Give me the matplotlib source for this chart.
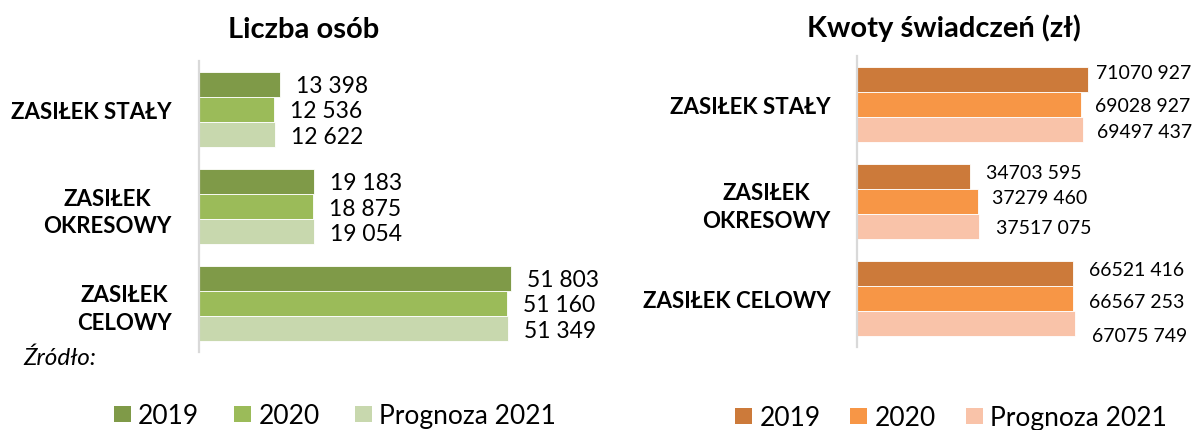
import matplotlib
matplotlib.use("Agg")
import matplotlib.pyplot as plt
from matplotlib.patches import Patch

plt.rcParams['font.family'] = ['Lato', 'DejaVu Sans']

# ---------------- data ----------------
categories_left = ["ZASIŁEK STAŁY", "ZASIŁEK\nOKRESOWY", "ZASIŁEK\nCELOWY"]
categories_right = ["ZASIŁEK STAŁY", "ZASIŁEK\nOKRESOWY", "ZASIŁEK CELOWY"]
series_names = ["2019", "2020", "Prognoza 2021"]

osoby_2019 = [13398, 19183, 51803]
osoby_2020 = [12536, 18875, 51160]
osoby_2021 = [12622, 19054, 51349]

kwoty_2019 = [71070927, 34703595, 66521416]
kwoty_2020 = [69028927, 37279460, 66567253]
kwoty_2021 = [69497437, 37517075, 67075749]

title_left = "Liczba osób"
title_right = "Kwoty świadczeń (zł)"
source_text = "Źródło:"

# ---------------- style ----------------
greens = ["#7F9A48", "#9BBB59", "#C8D8AE"]
oranges = ["#CC7A3A", "#F79646", "#F9C3A9"]
axis_grey = "#D9D9D9"
DPI = 100
W, H = 1195, 431
PX = 72.0 / DPI  # points per pixel

# label nudges in pixels (dx from bar end, dy downwards) for the right chart
nudge_right = [
    [(8, -6.5), (14, 1.5), (14, 1.5)],
    [(16, -3.5), (14, -3.7), (17, 1.3)],
    [(16, -4), (16, 3.3), (17, 11.7)],
]

fmt_left = lambda v: f"{v:,}".replace(",", " ")
fmt_right = lambda v: f"{v // 1000} {v % 1000:03d}"

fig = plt.figure(figsize=(W / DPI, H / DPI), dpi=DPI)


def frac(x0, x1, ytop, ybot):
    return [x0 / W, 1 - ybot / H, (x1 - x0) / W, (ybot - ytop) / H]


def draw_panel(ax, cats, series, colors, xmax, fmt, nudges, label_pad, val_size):
    n = len(cats)
    bh = 0.258
    for s, (vals, col) in enumerate(zip(series, colors)):
        pos = [i + (s - 1) * bh for i in range(n)]
        ax.barh(pos, vals, height=bh, color=col, edgecolor="white", linewidth=0.6)
        for i, v in enumerate(vals):
            dx, dy = nudges[i][s] if nudges else (16, 1.5)
            ax.annotate(fmt(v), xy=(v, pos[i]), xytext=(dx * PX, -dy * PX),
                        textcoords="offset points", ha="left", va="center",
                        fontsize=val_size, color="black", annotation_clip=False)
    ax.set_ylim(n - 0.5, -0.5)
    ax.set_xlim(0, xmax)
    ax.set_yticks(range(n))
    ax.set_yticklabels(cats, fontsize=16, fontweight="bold", linespacing=1.4)
    for t in ax.get_yticklabels():
        t.set_multialignment("center")
    ax.tick_params(axis="y", length=0, pad=label_pad)
    ax.set_xticks([])
    for side in ["top", "right", "bottom"]:
        ax.spines[side].set_visible(False)
    ax.spines["left"].set_color(axis_grey)
    ax.spines["left"].set_linewidth(1.6)


axL = fig.add_axes(frac(199, 560, 62, 353))
draw_panel(axL, categories_left, [osoby_2019, osoby_2020, osoby_2021], greens,
           60000, fmt_left, None, 27 * PX, 16.5)

axR = fig.add_axes(frac(857, 1117, 57, 348))
draw_panel(axR, categories_right, [kwoty_2019, kwoty_2020, kwoty_2021], oranges,
           80000000, fmt_right, nudge_right, 26 * PX, 14)

fig.text(304 / W, 1 - 30 / H, title_left, ha="center", va="center",
         fontsize=21, fontweight="bold")
fig.text(944 / W, 1 - 28 / H, title_right, ha="center", va="center",
         fontsize=21, fontweight="bold")
fig.text(23 / W, 1 - 358 / H, source_text, ha="left", va="center",
         fontsize=17.5, style="italic")


def add_legend(colors, cx, cy, colspace):
    handles = [Patch(facecolor=c, edgecolor="none") for c in colors]
    fig.legend(handles, series_names, loc="center", bbox_to_anchor=(cx / W, 1 - cy / H),
               ncol=3, frameon=False, fontsize=19, handlelength=0.64, handleheight=0.58,
               handletextpad=0.28, columnspacing=colspace, borderaxespad=0, borderpad=0)


add_legend(greens, 335, 417, 1.33)
add_legend(oranges, 951, 419, 1.13)

fig.savefig("out.png", dpi=DPI)
